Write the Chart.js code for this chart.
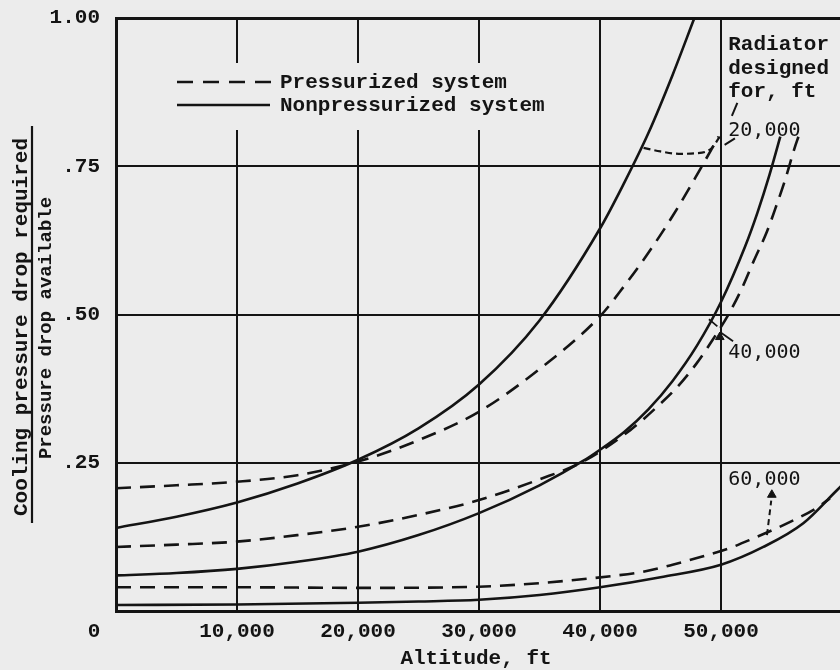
<!DOCTYPE html>
<html>
<head>
<meta charset="utf-8">
<script src="https://cdn.jsdelivr.net/npm/chart.js@4"></script>
<style>
  html, body { margin: 0; padding: 0; background: #ececec; overflow: hidden; }
  #wrap { width: 840px; height: 670px; overflow: hidden; position: relative; background: #ececec; }
  canvas { display: block; }
</style>
</head>
<body>
<div id="wrap"><canvas id="c" width="850" height="670"></canvas></div>
<script>
// ---------------- DATA ----------------
// Altitude, ft  /  ratio cooling pressure drop required / pressure drop available
// Radiator designed for 20,000 ft
const ns20X = [0, 5000, 10000, 15000, 20000, 25000, 30000, 35000, 40000, 42000, 44000, 46000, 47800];
const ns20Y = [0.140, 0.159, 0.183, 0.215, 0.255, 0.308, 0.382, 0.490, 0.645, 0.722, 0.806, 0.904, 1.000];
const p20X  = [0, 5000, 10000, 15000, 20000, 25000, 30000, 35000, 40000, 42000, 44000, 46000, 48000, 49800];
const p20Y  = [0.207, 0.212, 0.218, 0.229, 0.252, 0.288, 0.336, 0.408, 0.497, 0.548, 0.604, 0.666, 0.735, 0.800];
const lim20X = [43600, 45000, 46500, 48000, 49200, 49900];
const lim20Y = [0.781, 0.775, 0.771, 0.772, 0.780, 0.800];
// Radiator designed for 40,000 ft
const ns40X = [0, 5000, 10000, 15000, 20000, 25000, 30000, 35000, 38600, 40000, 42000, 44000, 46000, 48000, 50000, 52000, 53000, 54000, 54900];
const ns40Y = [0.060, 0.064, 0.071, 0.083, 0.100, 0.128, 0.165, 0.212, 0.253, 0.272, 0.302, 0.340, 0.388, 0.447, 0.521, 0.615, 0.671, 0.735, 0.800];
const p40X  = [0, 5000, 10000, 15000, 20000, 25000, 30000, 35000, 38600, 42500, 44700, 46400, 48000, 49300, 50700, 51700, 52700, 53800, 54600, 55300, 56100, 56400];
const p40Y  = [0.108, 0.112, 0.117, 0.128, 0.142, 0.162, 0.187, 0.222, 0.252, 0.305, 0.344, 0.378, 0.418, 0.457, 0.503, 0.543, 0.590, 0.640, 0.685, 0.727, 0.782, 0.800];
// Radiator designed for 60,000 ft
const ns60X = [0, 10000, 20000, 25000, 30000, 35000, 40000, 45000, 50000, 53500, 56800, 59600, 60000];
const ns60Y = [0.010, 0.011, 0.014, 0.016, 0.019, 0.027, 0.040, 0.057, 0.078, 0.108, 0.148, 0.204, 0.212];
const p60X  = [0, 10000, 20000, 30000, 35000, 41000, 43500, 46000, 48300, 50700, 52400, 56000, 58000, 59000];
const p60Y  = [0.040, 0.040, 0.039, 0.041, 0.047, 0.059, 0.066, 0.078, 0.091, 0.106, 0.120, 0.153, 0.175, 0.190];

// leader lines / arrows for the curve labels
const lead20X = [51350, 50900];   const lead20Y = [0.857, 0.835];
const lead20bX = [51150, 50300];  const lead20bY = [0.797, 0.786];
const lead40X = [51000, 49950];   const lead40Y = [0.455, 0.470];
const lead40bX = [49700, 49000];  const lead40bY = [0.480, 0.492];
const head40X = [49900];          const head40Y = [0.462];
const lead60X = [53800, 54150];   const lead60Y = [0.128, 0.186];
const head60X = [54200];          const head60Y = [0.196];

// axis ticks
const xTicks = [0, 10000, 20000, 30000, 40000, 50000, 60000];
const yTicks = [0, 0.25, 0.50, 0.75, 1.00];
const yTickLabels = ['', '.25', '.50', '.75', '1.00'];

const legendLabels = ['Pressurized system', 'Nonpressurized system'];
const curveLabels = ['20,000', '40,000', '60,000'];
const curveLabelY = [0.81, 0.435, 0.222];
const radiatorLines = ['Radiator', 'designed', 'for, ft'];

// ---------------- STYLE ----------------
const INK = '#141414';
const BG = '#ececec';
const MONO = '"Liberation Mono", "DejaVu Sans Mono", monospace';

function pts(xs, ys) { return xs.map((x, i) => ({ x: x, y: ys[i] })); }

function curve(label, xs, ys, dash, width) {
  return {
    label: label,
    data: pts(xs, ys),
    showLine: true,
    borderColor: INK,
    backgroundColor: INK,
    borderWidth: width || 2.6,
    borderDash: dash || [],
    pointRadius: 0,
    pointHoverRadius: 0,
    cubicInterpolationMode: 'monotone',
    fill: false
  };
}
function head(xs, ys) {
  return {
    data: pts(xs, ys),
    showLine: false,
    pointStyle: 'triangle',
    pointRadius: 5,
    borderWidth: 1,
    borderColor: INK,
    backgroundColor: INK
  };
}

const DASH = [15, 9];
const datasets = [
  curve('Nonpressurized system', ns20X, ns20Y),
  curve('Pressurized system', p20X, p20Y, DASH),
  curve('limit', lim20X, lim20Y, [7, 4], 2.2),
  curve('Nonpressurized system', ns40X, ns40Y),
  curve('Pressurized system', p40X, p40Y, DASH),
  curve('Nonpressurized system', ns60X, ns60Y),
  curve('Pressurized system', p60X, p60Y, DASH),
  curve('lead', lead20X, lead20Y, [], 2),
  curve('lead', lead20bX, lead20bY, [], 2),
  curve('lead', lead40X, lead40Y, [], 1.8),
  curve('lead', lead40bX, lead40bY, [], 1.8),
  head(head40X, head40Y),
  curve('lead', lead60X, lead60Y, [6, 4], 2),
  head(head60X, head60Y)
];

// ---------------- CUSTOM TEXT / LEGEND ----------------
const decor = {
  id: 'decor',
  beforeDatasetsDraw(chart) {
    const ctx = chart.ctx;
    ctx.save();
    // legend panel hides the grid lines behind it
    ctx.fillStyle = BG;
    ctx.fillRect(168, 63, 365, 67);
    ctx.strokeStyle = INK;
    ctx.lineWidth = 2.6;
    ctx.setLineDash([16, 10]);
    ctx.beginPath(); ctx.moveTo(177, 82); ctx.lineTo(272, 82); ctx.stroke();
    ctx.setLineDash([]);
    ctx.beginPath(); ctx.moveTo(177, 105); ctx.lineTo(270, 105); ctx.stroke();
    ctx.fillStyle = INK;
    ctx.font = 'bold 21px ' + MONO;
    ctx.textAlign = 'left';
    ctx.textBaseline = 'alphabetic';
    ctx.fillText(legendLabels[0], 280, 88);
    ctx.fillText(legendLabels[1], 280, 111);
    ctx.restore();
  },
  afterDraw(chart) {
    const ctx = chart.ctx;
    const xs = chart.scales.x, ys = chart.scales.y;
    ctx.save();
    ctx.fillStyle = INK;
    ctx.strokeStyle = INK;

    // y-axis title as a fraction
    ctx.save();
    ctx.translate(27, 327);
    ctx.rotate(-Math.PI / 2);
    ctx.textAlign = 'center';
    ctx.textBaseline = 'alphabetic';
    ctx.font = 'bold 21px ' + MONO;
    ctx.fillText('Cooling pressure drop required', 0, 0);
    ctx.restore();
    ctx.lineWidth = 2.2;
    ctx.beginPath(); ctx.moveTo(32, 126); ctx.lineTo(32, 523); ctx.stroke();
    ctx.save();
    ctx.translate(51, 328);
    ctx.rotate(-Math.PI / 2);
    ctx.textAlign = 'center';
    ctx.textBaseline = 'alphabetic';
    ctx.font = 'bold 19px ' + MONO;
    ctx.fillText('Pressure drop available', 0, 0);
    ctx.restore();

    // origin label and x-axis title
    ctx.font = 'bold 21px ' + MONO;
    ctx.textAlign = 'center';
    ctx.textBaseline = 'middle';
    ctx.fillText('0', 94, 632);
    ctx.textBaseline = 'alphabetic';
    ctx.fillText('Altitude, ft', 476, 664);

    // "Radiator designed for, ft"
    ctx.textAlign = 'left';
    const rx = xs.getPixelForValue(50600);
    ctx.fillText(radiatorLines[0], rx, 50);
    ctx.fillText(radiatorLines[1], rx, 74);
    ctx.fillText(radiatorLines[2], rx, 97);

    // curve-family labels
    ctx.font = '20px "DejaVu Sans Mono", monospace';
    ctx.textBaseline = 'middle';
    for (let i = 0; i < curveLabels.length; i++) {
      ctx.fillText(curveLabels[i], rx, ys.getPixelForValue(curveLabelY[i]));
    }
    ctx.restore();
  }
};

new Chart(document.getElementById('c'), {
  type: 'scatter',
  data: { datasets: datasets },
  options: {
    responsive: false,
    animation: false,
    devicePixelRatio: 1,
    layout: { padding: { top: 18, right: 8, left: 0, bottom: 0 } },
    plugins: { legend: { display: false }, tooltip: { enabled: false } },
    scales: {
      x: {
        type: 'linear',
        min: 0, max: 60000,
        afterBuildTicks: s => { s.ticks = xTicks.map(v => ({ value: v })); },
        afterFit: s => { s.height = 59; s.paddingLeft = 0; s.paddingRight = 0; },
        ticks: {
          autoSkip: false, maxRotation: 0, padding: 8, color: INK,
          font: { family: MONO, size: 21, weight: 'bold' },
          callback: v => (v === 0 || v === 60000) ? '' : v.toLocaleString('en-US')
        },
        grid: { color: INK, lineWidth: 2, drawTicks: false },
        border: { color: INK, width: 3 }
      },
      y: {
        min: 0, max: 1,
        afterBuildTicks: s => { s.ticks = yTicks.map(v => ({ value: v })); },
        afterFit: s => { s.width = 116; s.paddingTop = 0; s.paddingBottom = 0; },
        ticks: {
          padding: 16, color: INK,
          font: { family: MONO, size: 21, weight: 'bold' },
          callback: v => { const i = yTicks.indexOf(v); return i >= 0 ? yTickLabels[i] : ''; }
        },
        grid: { color: INK, lineWidth: c => (c.tick && c.tick.value === 1 ? 3 : 2), drawTicks: false },
        border: { color: INK, width: 3 }
      }
    }
  },
  plugins: [decor]
});
</script>
</body>
</html>
